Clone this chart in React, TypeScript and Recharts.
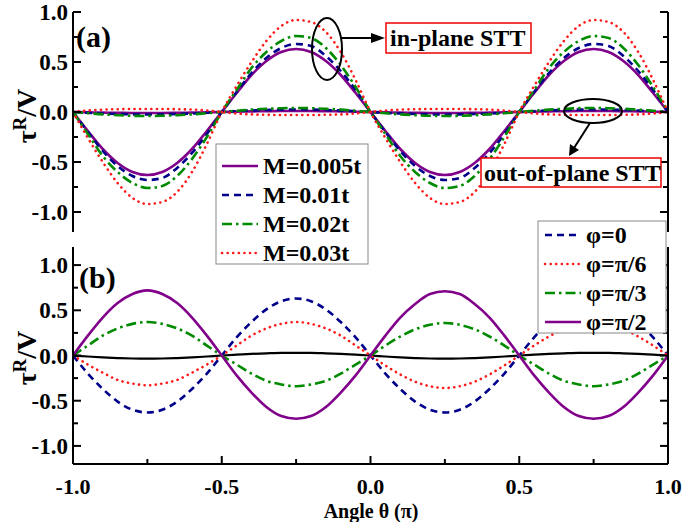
import React from 'react';
import { LineChart, Line, XAxis, YAxis } from 'recharts';

// ---------- data ----------
const theta = [-1, -0.95, -0.9, -0.85, -0.8, -0.75, -0.7, -0.65, -0.6, -0.55, -0.5, -0.45, -0.4, -0.35, -0.3, -0.25, -0.2, -0.15, -0.1, -0.05, 0, 0.05, 0.1, 0.15, 0.2, 0.25, 0.3, 0.35, 0.4, 0.45, 0.5, 0.55, 0.6, 0.65, 0.7, 0.75, 0.8, 0.85, 0.9, 0.95, 1];

// panel (a): in-plane STT
const m005In = [0, -0.19, -0.37, -0.51, -0.60, -0.63, -0.60, -0.51, -0.37, -0.19, 0, 0.19, 0.37, 0.51, 0.60, 0.63, 0.60, 0.51, 0.37, 0.19, 0, -0.19, -0.37, -0.51, -0.60, -0.63, -0.60, -0.51, -0.37, -0.19, 0, 0.19, 0.37, 0.51, 0.60, 0.63, 0.60, 0.51, 0.37, 0.19, 0];
const m01In = [0, -0.20, -0.39, -0.54, -0.64, -0.68, -0.66, -0.56, -0.41, -0.22, 0, 0.20, 0.39, 0.54, 0.64, 0.68, 0.66, 0.56, 0.41, 0.22, 0, -0.20, -0.39, -0.54, -0.64, -0.68, -0.66, -0.56, -0.41, -0.22, 0, 0.20, 0.39, 0.54, 0.64, 0.68, 0.66, 0.56, 0.41, 0.22, 0];
const m02In = [0, -0.22, -0.44, -0.60, -0.71, -0.76, -0.74, -0.64, -0.47, -0.25, 0, 0.22, 0.44, 0.60, 0.71, 0.76, 0.74, 0.64, 0.47, 0.25, 0, -0.22, -0.44, -0.60, -0.71, -0.76, -0.74, -0.64, -0.47, -0.25, 0, 0.22, 0.44, 0.60, 0.71, 0.76, 0.74, 0.64, 0.47, 0.25, 0];
const m03In = [0, -0.26, -0.50, -0.71, -0.86, -0.92, -0.90, -0.80, -0.60, -0.32, 0, 0.26, 0.50, 0.71, 0.86, 0.92, 0.90, 0.80, 0.60, 0.32, 0, -0.26, -0.50, -0.71, -0.86, -0.92, -0.90, -0.80, -0.60, -0.32, 0, 0.26, 0.50, 0.71, 0.86, 0.92, 0.90, 0.80, 0.60, 0.32, 0];

// panel (a): out-of-plane STT
const m005Out = [0, -0.003, -0.006, -0.008, -0.01, -0.01, -0.01, -0.008, -0.006, -0.003, 0, 0.003, 0.006, 0.008, 0.01, 0.01, 0.01, 0.008, 0.006, 0.003, 0, -0.003, -0.006, -0.008, -0.01, -0.01, -0.01, -0.008, -0.006, -0.003, 0, 0.003, 0.006, 0.008, 0.01, 0.01, 0.01, 0.008, 0.006, 0.003, 0];
const m01Out = [0, -0.008, -0.015, -0.02, -0.024, -0.025, -0.024, -0.02, -0.015, -0.008, 0, 0.008, 0.015, 0.02, 0.024, 0.025, 0.024, 0.02, 0.015, 0.008, 0, -0.008, -0.015, -0.02, -0.024, -0.025, -0.024, -0.02, -0.015, -0.008, 0, 0.008, 0.015, 0.02, 0.024, 0.025, 0.024, 0.02, 0.015, 0.008, 0];
const m02Out = [0, -0.012, -0.024, -0.032, -0.038, -0.04, -0.038, -0.032, -0.024, -0.012, 0, 0.012, 0.024, 0.032, 0.038, 0.04, 0.038, 0.032, 0.024, 0.012, 0, -0.012, -0.024, -0.032, -0.038, -0.04, -0.038, -0.032, -0.024, -0.012, 0, 0.012, 0.024, 0.032, 0.038, 0.04, 0.038, 0.032, 0.024, 0.012, 0];
const m03Out = [0, 0.015, 0.024, 0.028, 0.03, 0.03, 0.03, 0.028, 0.024, 0.015, 0, -0.015, -0.024, -0.028, -0.03, -0.03, -0.03, -0.028, -0.024, -0.015, 0, 0.015, 0.024, 0.028, 0.03, 0.03, 0.03, 0.028, 0.024, 0.015, 0, -0.015, -0.024, -0.028, -0.03, -0.03, -0.03, -0.028, -0.024, -0.015, 0];

// panel (b)
const phi0 = [0, -0.20, -0.37, -0.51, -0.60, -0.63, -0.60, -0.51, -0.37, -0.20, 0, 0.20, 0.37, 0.51, 0.60, 0.63, 0.60, 0.51, 0.37, 0.20, 0, -0.20, -0.37, -0.51, -0.60, -0.63, -0.60, -0.51, -0.37, -0.20, 0, 0.20, 0.37, 0.51, 0.60, 0.63, 0.60, 0.51, 0.37, 0.20, 0];
const phiPi6 = [0, -0.10, -0.19, -0.27, -0.31, -0.33, -0.31, -0.27, -0.19, -0.10, 0, 0.11, 0.22, 0.30, 0.35, 0.37, 0.35, 0.30, 0.22, 0.11, 0, -0.11, -0.21, -0.29, -0.34, -0.36, -0.34, -0.29, -0.21, -0.11, 0, 0.11, 0.21, 0.29, 0.34, 0.36, 0.34, 0.29, 0.21, 0.11, 0];
const phiPi3 = [0, 0.11, 0.22, 0.30, 0.35, 0.37, 0.35, 0.30, 0.22, 0.11, 0, -0.10, -0.20, -0.28, -0.32, -0.34, -0.32, -0.28, -0.20, -0.10, 0, 0.11, 0.21, 0.29, 0.34, 0.36, 0.34, 0.29, 0.21, 0.11, 0, -0.10, -0.20, -0.28, -0.32, -0.34, -0.32, -0.28, -0.20, -0.10, 0];
const phiPi2 = [0, 0.22, 0.42, 0.58, 0.68, 0.72, 0.68, 0.58, 0.42, 0.22, 0, -0.22, -0.41, -0.57, -0.67, -0.70, -0.67, -0.57, -0.41, -0.22, 0, 0.22, 0.42, 0.57, 0.68, 0.71, 0.68, 0.57, 0.42, 0.22, 0, -0.22, -0.41, -0.57, -0.67, -0.70, -0.67, -0.57, -0.41, -0.22, 0];
const outB = [0, -0.011, -0.021, -0.028, -0.033, -0.035, -0.033, -0.028, -0.021, -0.011, 0, 0.009, 0.018, 0.024, 0.029, 0.03, 0.029, 0.024, 0.018, 0.009, 0, -0.011, -0.021, -0.028, -0.033, -0.035, -0.033, -0.028, -0.021, -0.011, 0, 0.009, 0.018, 0.024, 0.029, 0.03, 0.029, 0.024, 0.018, 0.009, 0];

const xTicks = [-1, -0.75, -0.5, -0.25, 0, 0.25, 0.5, 0.75, 1];
const yTicks = [-1, -0.75, -0.5, -0.25, 0, 0.25, 0.5, 0.75, 1];
const legendA = ['M=0.005t', 'M=0.01t', 'M=0.02t', 'M=0.03t'];
const legendB = ['φ=0', 'φ=π/6', 'φ=π/3', 'φ=π/2'];
const xTitle = 'Angle θ (π)';

// ---------- styles ----------
const FONT = 'Liberation Serif, Times New Roman, DejaVu Serif, serif';
const PURPLE = '#80008a';
const BLUE = '#00008b';
const GREEN = '#008a00';
const RED = '#ff1a1a';
const styles = [
  { color: PURPLE, dash: undefined as string | undefined, cap: 'butt' },
  { color: BLUE, dash: '7 5', cap: 'butt' },
  { color: GREEN, dash: '10 4 2.5 4', cap: 'butt' },
  { color: RED, dash: '0.1 5.5', cap: 'round' },
];
const SW = 2.6;
const TICK_FS = 23;

const dataA = theta.map((t, i) => ({
  theta: t,
  a0: m005In[i], a1: m01In[i], a2: m02In[i], a3: m03In[i],
  o0: m005Out[i], o1: m01Out[i], o2: m02Out[i], o3: m03Out[i],
}));
const dataB = theta.map((t, i) => ({
  theta: t, b0: phi0[i], b1: phiPi6[i], b2: phiPi3[i], b3: phiPi2[i], k: outB[i],
}));

const isMajor = (v: number) => Math.abs(v * 2 - Math.round(v * 2)) < 1e-6;
const textStyle = { fontFamily: FONT, fontWeight: 700 } as const;

const makeTick = (side: 'left' | 'right' | 'top' | 'bottom', label: boolean) => (props: any) => {
  const { x, y, payload } = props;
  const v = payload.value as number;
  const major = isMajor(v);
  const len = major ? 8 : 5;
  let ln: any = null;
  if (side === 'left') ln = <line x1={x} y1={y} x2={x + len} y2={y} stroke="#000" strokeWidth={2} />;
  if (side === 'right') ln = <line x1={x} y1={y} x2={x - len} y2={y} stroke="#000" strokeWidth={2} />;
  if (side === 'top') ln = <line x1={x} y1={y} x2={x} y2={y + len} stroke="#000" strokeWidth={2} />;
  if (side === 'bottom') ln = <line x1={x} y1={y} x2={x} y2={y - len} stroke="#000" strokeWidth={2} />;
  let txt: any = null;
  if (label && major) {
    const s = (Math.abs(v) < 1e-9 ? 0 : v).toFixed(1);
    if (side === 'left') txt = <text x={x - 5} y={y + 8} textAnchor="end" style={textStyle} fontSize={TICK_FS} fill="#000">{s}</text>;
    if (side === 'bottom') txt = <text x={x} y={y + 30} textAnchor="middle" style={textStyle} fontSize={22} fill="#000">{s}</text>;
  }
  return <g>{ln}{txt}</g>;
};

const axisLine = { stroke: '#000', strokeWidth: 2 };

export default function App() {
  const linesA = [0, 1, 2, 3];
  const bStyles = [styles[1], styles[3], styles[2], styles[0]];
  return (
    <div style={{ position: 'absolute', left: 0, top: 0, width: 685, height: 522, background: '#fff', fontFamily: FONT }}>
      {/* panel (a) */}
      <div style={{ position: 'absolute', left: 0, top: 0 }}>
        <LineChart width={685} height={240} data={dataA} margin={{ top: 12, right: 0, bottom: 8, left: 0 }}>
          <XAxis xAxisId="b" type="number" dataKey="theta" domain={[-1, 1]} ticks={xTicks} interval={0} allowDataOverflow height={0} tickSize={0} tickMargin={0} tickLine={false} axisLine={axisLine} tick={makeTick('bottom', false)} />
          <XAxis xAxisId="t" orientation="top" type="number" dataKey="theta" domain={[-1, 1]} ticks={xTicks} interval={0} allowDataOverflow height={0} tickSize={0} tickMargin={0} tickLine={false} axisLine={axisLine} tick={makeTick('top', false)} />
          <YAxis yAxisId="l" type="number" domain={[-1.2, 1]} ticks={yTicks} interval={0} allowDataOverflow width={73} tickSize={0} tickMargin={0} tickLine={false} axisLine={axisLine} tick={makeTick('left', true)} />
          <YAxis yAxisId="r" orientation="right" type="number" domain={[-1.2, 1]} ticks={yTicks} interval={0} allowDataOverflow width={17} tickSize={0} tickMargin={0} tickLine={false} axisLine={axisLine} tick={makeTick('right', false)} />
          {linesA.map((i) => (
            <Line key={'o' + i} xAxisId="b" yAxisId="l" type="monotone" dataKey={'o' + i} stroke={styles[i].color} strokeWidth={SW} strokeDasharray={styles[i].dash} strokeLinecap={styles[i].cap as any} dot={false} isAnimationActive={false} />
          ))}
          {linesA.map((i) => (
            <Line key={'a' + i} xAxisId="b" yAxisId="l" type="monotone" dataKey={'a' + i} stroke={styles[i].color} strokeWidth={SW} strokeDasharray={styles[i].dash} strokeLinecap={styles[i].cap as any} dot={false} isAnimationActive={false} />
          ))}
        </LineChart>
      </div>
      {/* panel (b) */}
      <div style={{ position: 'absolute', left: 0, top: 0 }}>
        <LineChart width={685} height={522} data={dataB} margin={{ top: 247, right: 0, bottom: 0, left: 0 }}>
          <XAxis xAxisId="b" type="number" dataKey="theta" domain={[-1, 1]} ticks={xTicks} interval={0} allowDataOverflow height={58} tickSize={0} tickMargin={0} tickLine={false} axisLine={axisLine} tick={makeTick('bottom', true)} />
          <XAxis xAxisId="t" orientation="top" type="number" dataKey="theta" domain={[-1, 1]} ticks={xTicks} interval={0} allowDataOverflow height={0} tickSize={0} tickMargin={0} tickLine={false} axisLine={axisLine} tick={makeTick('top', false)} />
          <YAxis yAxisId="l" type="number" domain={[-1.2, 1.2]} ticks={yTicks} interval={0} allowDataOverflow width={73} tickSize={0} tickMargin={0} tickLine={false} axisLine={axisLine} tick={makeTick('left', true)} />
          <YAxis yAxisId="r" orientation="right" type="number" domain={[-1.2, 1.2]} ticks={yTicks} interval={0} allowDataOverflow width={17} tickSize={0} tickMargin={0} tickLine={false} axisLine={axisLine} tick={makeTick('right', false)} />
          <Line xAxisId="b" yAxisId="l" type="monotone" dataKey="k" stroke="#000" strokeWidth={2.2} dot={false} isAnimationActive={false} />
          {[0, 1, 2, 3].map((i) => (
            <Line key={'b' + i} xAxisId="b" yAxisId="l" type="monotone" dataKey={'b' + i} stroke={bStyles[i].color} strokeWidth={SW} strokeDasharray={bStyles[i].dash} strokeLinecap={bStyles[i].cap as any} dot={false} isAnimationActive={false} />
          ))}
        </LineChart>
      </div>
      {/* annotations / legends */}
      <svg width={685} height={522} style={{ position: 'absolute', left: 0, top: 0, pointerEvents: 'none', ...textStyle }}>
        <text x={76} y={47} fontSize={30} style={textStyle}>(a)</text>
        <text x={79} y={288} fontSize={30} style={textStyle}>(b)</text>
        <text transform="translate(36,116) rotate(-90)" textAnchor="middle" fontSize={28} style={textStyle}>τ<tspan dy={-10} fontSize={19}>R</tspan><tspan dy={10}>/V</tspan></text>
        <text transform="translate(36,358) rotate(-90)" textAnchor="middle" fontSize={28} style={textStyle}>τ<tspan dy={-10} fontSize={19}>R</tspan><tspan dy={10}>/V</tspan></text>
        <text x={371} y={517.5} textAnchor="middle" fontSize={20} style={textStyle}>{xTitle}</text>

        {/* in-plane annotation */}
        <ellipse cx={327} cy={49} rx={15} ry={31} fill="none" stroke="#000" strokeWidth={2} />
        <line x1={342} y1={38} x2={373} y2={38} stroke="#000" strokeWidth={2} />
        <polygon points="385,38 371,33 371,43" fill="#000" />
        <rect x={386} y={23} width={145} height={30} fill="#fff" stroke="#e00" strokeWidth={1.5} />
        <text x={390} y={46} fontSize={24} style={textStyle}>in-plane STT</text>

        {/* out-of-plane annotation */}
        <ellipse cx={593} cy={111} rx={29} ry={12} fill="none" stroke="#000" strokeWidth={2} />
        <line x1={590} y1={123} x2={574} y2={148} stroke="#000" strokeWidth={2} />
        <polygon points="569,156 570,144 579,150" fill="#000" />
        <rect x={481} y={158} width={180} height={29} fill="#fff" stroke="#e00" strokeWidth={1.5} />
        <text x={484} y={181} fontSize={24} style={textStyle}>out-of-plane STT</text>

        {/* legend (b) */}
        <rect x={538} y={221} width={128} height={112} fill="#fff" stroke="#888" strokeWidth={1} />
        {legendB.map((lab, i) => {
          const st = bStyles[i];
          const y = 235 + i * 29;
          return (
            <g key={lab}>
              <line x1={545} y1={y} x2={581} y2={y} stroke={st.color} strokeWidth={SW} strokeDasharray={st.dash} strokeLinecap={st.cap as any} />
              <text x={586} y={y + 8} fontSize={24} style={textStyle}>{lab}</text>
            </g>
          );
        })}

        {/* legend (a) */}
        <rect x={216} y={144} width={152} height={120} fill="#fff" stroke="#888" strokeWidth={1} />
        {legendA.map((lab, i) => {
          const st = styles[i];
          const y = 166 + i * 29;
          return (
            <g key={lab}>
              <line x1={222} y1={y} x2={258} y2={y} stroke={st.color} strokeWidth={SW} strokeDasharray={st.dash} strokeLinecap={st.cap as any} />
              <text x={263} y={y + 8} fontSize={24} style={textStyle}>{lab}</text>
            </g>
          );
        })}
      </svg>
    </div>
  );
}
